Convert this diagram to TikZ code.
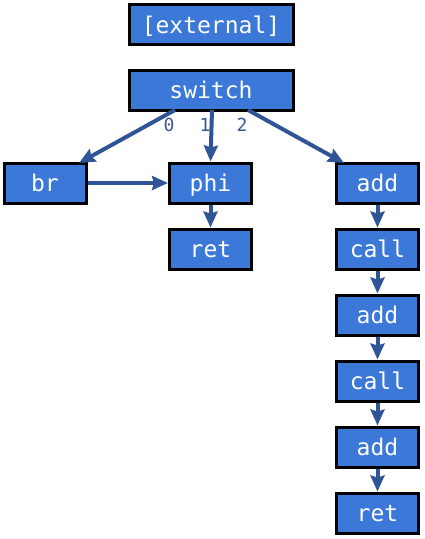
\documentclass[tikz,border=0pt]{standalone}
\usepackage{fontspec}
\setmonofont{DejaVu Sans Mono}
\usetikzlibrary{arrows.meta}
\definecolor{boxfill}{HTML}{3C78D8}
\definecolor{edgecol}{HTML}{2F5597}
\definecolor{labcol}{HTML}{3A5590}
\begin{document}
\begin{tikzpicture}[x=1pt,y=-1pt,
  blk/.style={draw=black,line width=3pt,fill=boxfill,text=white,minimum width=82pt,minimum height=40pt,inner sep=0pt,text height=17.5pt,text depth=0pt,font=\ttfamily\fontsize{23}{23}\selectfont},
  wide/.style={blk,minimum width=164pt},
  edge/.style={draw=edgecol,line width=4pt,-{Stealth[length=16pt,width=14pt,inset=2pt]}},
  elab/.style={text=labcol,font=\ttfamily\fontsize{18}{18}\selectfont,inner sep=0pt}]
\useasboundingbox (0,0) rectangle (424,539);
\node[wide] (ext) at (211,24.5) {[external]};
\node[wide] (sw) at (211,90) {switch};
\node[blk] (br) at (45,183) {br};
\node[blk] (phi) at (210.5,183) {phi};
\node[blk] (ret1) at (210.5,249) {ret};
\node[blk] (a1) at (377.5,183) {add};
\node[blk] (c1) at (377.5,249) {call};
\node[blk] (a2) at (377.5,315) {add};
\node[blk] (c2) at (377.5,381) {call};
\node[blk] (a3) at (377.5,447) {add};
\node[blk] (ret2) at (377.5,513) {ret};
\coordinate (s0) at (175,110);
\coordinate (s1) at (212,110);
\coordinate (s2) at (248,110);
\coordinate (t0) at (79,163);
\coordinate (t2) at (344,163);
\draw[edge] (s0) -- (t0);
\draw[edge] (s1) -- (phi.north);
\draw[edge] (s2) -- (t2);
\node[elab] (l0) at (169,125) {0};
\node[elab] (l1) at (205,125) {1};
\node[elab] (l2) at (242,125) {2};
\draw[edge] (br) -- (phi);
\draw[edge] (phi) -- (ret1);
\draw[edge] (a1) -- (c1);
\draw[edge] (c1) -- (a2);
\draw[edge] (a2) -- (c2);
\draw[edge] (c2) -- (a3);
\draw[edge] (a3) -- (ret2);
\end{tikzpicture}
\end{document}
